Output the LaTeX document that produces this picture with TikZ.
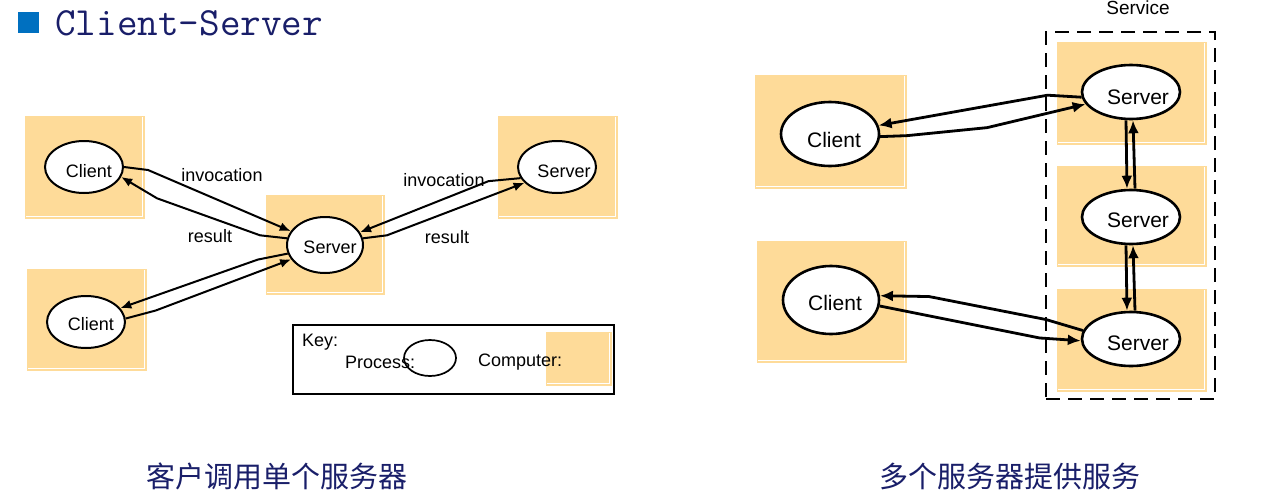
\documentclass[tikz,border=0pt]{standalone}
\usepackage{fontspec}
\setmainfont{Liberation Sans}
\newfontfamily\cjk{Noto Sans CJK SC}
\usetikzlibrary{shapes.geometric,arrows.meta}
\definecolor{tan}{RGB}{254,219,153}
\definecolor{navy}{RGB}{25,30,105}
\definecolor{sqblue}{RGB}{0,112,192}
\tikzset{
  comp/.style={fill=tan, draw=none, inner sep=0pt,
    path picture={\draw[white, line width=1pt]
      ([xshift=1pt,yshift=2.5pt]path picture bounding box.south west) --
      ([xshift=-2.5pt,yshift=2.5pt]path picture bounding box.south east) --
      ([xshift=-2.5pt,yshift=-1pt]path picture bounding box.north east);}},
  proc/.style={ellipse, draw, line width=2pt, fill=white, inner sep=0pt},
  procR/.style={ellipse, draw, line width=2.6pt, fill=white, inner sep=0pt},
  lbl/.style={font=\fontsize{18pt}{20pt}\selectfont, inner sep=0pt},
  lblR/.style={font=\fontsize{21pt}{23pt}\selectfont, inner sep=0pt},
  arr/.style={line width=2pt, -{Latex[length=11pt,width=9pt]}},
  arrR/.style={line width=2.8pt, -{Latex[length=13pt,width=11pt]}},
  captext/.style={font=\cjk\fontsize{29pt}{30pt}\selectfont, text=navy, inner sep=0pt, anchor=base}
}
\begin{document}
\begin{tikzpicture}[x=1pt,y=-1pt]
\useasboundingbox (0,0) rectangle (1269,501);
% title
\node[fill=sqblue, minimum size=21pt, inner sep=0pt] (bullet) at (28.5,22.5) {};
\node[anchor=base west, inner sep=0pt, text=navy, font=\ttfamily\fontsize{40pt}{41pt}\selectfont] (title) at (55,35) {Client-Server};

% ---------- left diagram ----------
\node[comp, minimum width=120pt, minimum height=103pt] (b1) at (85,167.5) {};
\node[comp, minimum width=120pt, minimum height=102pt] (b2) at (87,320) {};
\node[comp, minimum width=119pt, minimum height=100pt] (bs) at (325.5,245) {};
\node[comp, minimum width=120pt, minimum height=103pt] (brs) at (558,167.5) {};

\node[proc, minimum width=78pt, minimum height=52pt] (c1) at (84,167) {};
\node[proc, minimum width=78pt, minimum height=52pt] (c2) at (86,322) {};
\node[proc, minimum width=76pt, minimum height=56pt] (srv) at (325,245) {};
\node[proc, minimum width=78pt, minimum height=52pt] (rs) at (557,167) {};

\node[lbl] (c1t) at (89,171) {Client};
\node[lbl] (c2t) at (91,324) {Client};
\node[lbl] (srvt) at (330,247) {Server};
\node[lbl] (rst) at (564,171) {Server};

\draw[arr] (c1.east) -- ++(24,3) -- (srv.158);
\draw[arr] (srv.170) -- ++(-27,-3) -- ++(-103,-37) -- (c1.-15);
\draw[arr] (srv.193) -- ++(-30,6) -- (c2.22);
\draw[arr] (c2.5) -- ++(30,-8) -- (srv.203);
\draw[arr] (rs.197) -- ++(-32,3) -- (srv.20);
\draw[arr] (srv.10) -- ++(24,-3) -- (rs.206);

\node[lbl] (inv1) at (222,175) {invocation};
\node[lbl] (res1) at (210,236) {result};
\node[lbl] (inv2) at (444,180) {invocation};
\node[lbl] (res2) at (447,237) {result};

% key
\node[draw, line width=2.8pt, minimum width=321pt, minimum height=69pt, inner sep=0pt] (key) at (453.5,359.5) {};
\node[comp, minimum width=66pt, minimum height=54pt] (keycomp) at (579,359) {};
\node[lbl, anchor=west] (keyt) at (302,342) {Key:};
\node[lbl, anchor=west] (proct) at (345,362) {Process:};
\node[ellipse, draw, line width=1.7pt, minimum width=52pt, minimum height=36pt, inner sep=0pt] (keyproc) at (430,358) {};
\node[lbl, anchor=west] (compt) at (478,362) {Computer:};

% ---------- right diagram ----------
\node[draw, line width=2.8pt, dash pattern=on 14pt off 8pt, minimum width=169pt, minimum height=367pt, inner sep=0pt] (svc) at (1130.5,215.5) {};
\node[lblR, font=\fontsize{19pt}{21pt}\selectfont] (svct) at (1138,8) {Service};

\node[comp, minimum width=152pt, minimum height=114pt] (bc1) at (831,132) {};
\node[comp, minimum width=150pt, minimum height=122pt] (bc2) at (832,302) {};
\node[comp, minimum width=150pt, minimum height=103pt] (bs1) at (1132,93.5) {};
\node[comp, minimum width=150pt, minimum height=101pt] (bs2) at (1132,216.5) {};
\node[comp, minimum width=150pt, minimum height=103pt] (bs3) at (1132,340.5) {};

\node[procR, minimum width=98pt, minimum height=64pt] (cl1) at (830,134) {};
\node[procR, minimum width=96pt, minimum height=68pt] (cl2) at (831,300) {};
\node[procR, minimum width=98pt, minimum height=54pt] (s1) at (1131,92) {};
\node[procR, minimum width=98pt, minimum height=54pt] (s2) at (1131,217) {};
\node[procR, minimum width=98pt, minimum height=54pt] (s3) at (1131,339) {};

\node[lblR] (cl1t) at (834,140) {Client};
\node[lblR] (cl2t) at (835,303) {Client};
\node[lblR] (s1t) at (1138,97) {Server};
\node[lblR] (s2t) at (1138,220) {Server};
\node[lblR] (s3t) at (1138,343) {Server};

\draw[arrR] (cl1.-3) -- ++(27,-1) -- ++(80,-8) -- (s1.195);
\draw[arrR] (s1.186) -- ++(-34,-2) -- (cl1.10);
\draw[arrR] ([xshift=-5pt]s1.south) -- ([xshift=-4pt]s2.north);
\draw[arrR] ([xshift=4pt]s2.north) -- ([xshift=2pt]s1.south);
\draw[arrR] ([xshift=-5pt]s2.south) -- ([xshift=-4pt]s3.north);
\draw[arrR] ([xshift=4pt]s3.north) -- ([xshift=2pt]s2.south);
\draw[arrR] (cl2.-7) -- ++(160,32) -- (s3.182);
\draw[arrR] (s3.170) -- ++(-37,-11) -- ++(-117,-23) -- (cl2.5);

% captions
\node[captext] (cap1) at (277,487) {客户调用单个服务器};
\node[captext] (cap2) at (1010,487) {多个服务器提供服务};
\end{tikzpicture}
\end{document}
